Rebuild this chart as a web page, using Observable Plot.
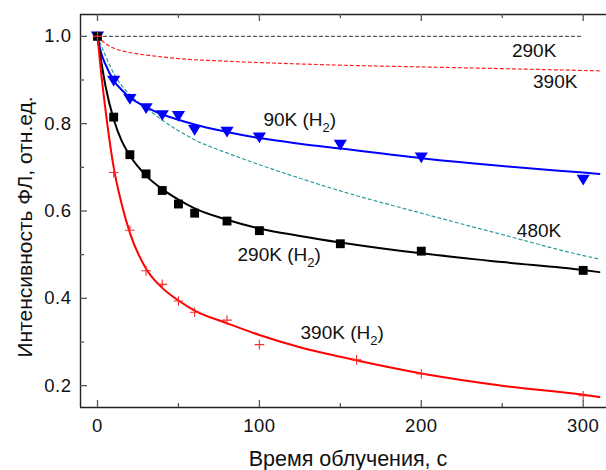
<!DOCTYPE html>
<html><head><meta charset="utf-8">
<script src="https://cdn.jsdelivr.net/npm/d3@7"></script>
<script src="https://cdn.jsdelivr.net/npm/@observablehq/plot@0.6"></script>
<style>body{margin:0;background:#fff}#chart{width:606px;height:470px}</style>
</head><body><div id="chart"></div>
<script>
// measured points
const t90 = [0,10,20,30,40,50,60,80,100,150,200,300];
const v90 = [1.0,0.899,0.857,0.836,0.82,0.818,0.786,0.782,0.769,0.752,0.723,0.672];
const t290 = [0,10,20,30,40,50,60,80,100,150,200,300];
const v290 = [1.0,0.815,0.729,0.685,0.647,0.616,0.595,0.577,0.555,0.525,0.508,0.464];
const t390 = [0,10,20,30,40,50,60,80,100,160,200,300];
const v390 = [1.0,0.688,0.556,0.463,0.432,0.394,0.368,0.35,0.294,0.259,0.227,0.177];
// fitted curves
const fitT = [0,2,5,10,15,20,30,40,50,60,80,100,125,150,200,250,300,310];
const fit90 = [1.0,0.965,0.935,0.899,0.877,0.86,0.838,0.821,0.809,0.798,0.781,0.767,0.754,0.743,0.721,0.703,0.688,0.685];
const fit290 = [1.0,0.95,0.885,0.81,0.76,0.727,0.681,0.65,0.626,0.606,0.58,0.56,0.543,0.528,0.503,0.483,0.465,0.46];
const fit390 = [1.0,0.925,0.83,0.70,0.615,0.55,0.468,0.424,0.395,0.372,0.343,0.316,0.288,0.266,0.228,0.2,0.179,0.174];
// dotted reference curves
const d290T = [0,300];
const d290V = [1.0,1.0];
const d390T = [0,5,10,20,35,50,80,115,150,200,250,310];
const d390V = [1.0,0.983,0.973,0.963,0.955,0.949,0.943,0.938,0.934,0.93,0.926,0.921];
const d480T = [0,5,10,20,30,40,50,60,80,100,125,150,200,250,300,310];
const d480V = [1.0,0.955,0.915,0.866,0.836,0.808,0.784,0.763,0.733,0.706,0.675,0.646,0.595,0.546,0.498,0.49];
// annotations
const labelText = ["290K","390K","90K (H₂)","480K","290K (H₂)","390K (H₂)"];
const labelT = [256,269,102.5,259,86.5,125.4];
const labelV = [0.967,0.896,0.809,0.555,0.5,0.321];
// ticks
const xMajor = [0,100,200,300];
const xMinor = [50,150,250];
const yMajor = [0.2,0.4,0.6,0.8,1.0];
const yMinor = [0.3,0.5,0.7,0.9];
const xDomain = [-10.5,314.4];
const yDomain = [0.15,1.05];
const xTitle = "Время облучения, с";
const yTitle = "Интенсивность ФЛ, отн.ед.";

const rows = (ts, vs) => ts.map((t,i)=>({t, v: vs[i]}));
const labels = labelText.map((s,i)=>({s, t: labelT[i], v: labelV[i]}));

const W=606, H=470, mL=80, mT=14, mB=63, mR=0;
const plotW = W-mL-mR, plotH = H-mT-mB;

const triDown = {draw(ctx, size){ const r=Math.sqrt(size/Math.PI);
  ctx.moveTo(-r,-0.72*r); ctx.lineTo(r,-0.72*r); ctx.lineTo(0,0.9*r); ctx.closePath(); }};

const tickStyle = {stroke:"#555", strokeWidth:1.3};
const chart = Plot.plot({
  width: W, height: H, marginLeft: mL, marginRight: mR, marginTop: mT, marginBottom: mB,
  style: {fontFamily: "'Liberation Sans', Arial, sans-serif", fontSize: "18.5px", background: "#fff", color: "#111"},
  x: {domain: xDomain},
  y: {domain: yDomain},
  marks: [
    Plot.line(rows(d290T,d290V), {x:"t", y:"v", stroke:"#555", strokeWidth:1.3, strokeDasharray:"3,3"}),
    Plot.line(rows(d390T,d390V), {x:"t", y:"v", stroke:"#ff2020", strokeWidth:1.2, strokeDasharray:"3,3", curve:"monotone-x"}),
    Plot.line(rows(d480T,d480V), {x:"t", y:"v", stroke:"#2a9d9d", strokeWidth:1.2, strokeDasharray:"3,3", curve:"monotone-x"}),
    Plot.line(rows(fitT,fit90), {x:"t", y:"v", stroke:"#0000ff", strokeWidth:2, curve:"monotone-x"}),
    Plot.line(rows(fitT,fit290), {x:"t", y:"v", stroke:"#000", strokeWidth:2, curve:"monotone-x"}),
    Plot.line(rows(fitT,fit390), {x:"t", y:"v", stroke:"#ff0000", strokeWidth:2, curve:"monotone-x"}),
    Plot.dot(rows(t90,v90), {x:"t", y:"v", symbol: triDown, r:6.6, fill:"#0000ff", stroke:"none"}),
    Plot.dot(rows(t290,v290), {x:"t", y:"v", symbol:"square", r:5, fill:"#000", stroke:"none"}),
    Plot.dot(rows(t390,v390), {x:"t", y:"v", symbol:"plus", r:3.2, stroke:"#ff2a2a", strokeWidth:1.1}),
    Plot.text(labels, {x:"t", y:"v", text:"s", textAnchor:"start", lineAnchor:"middle", fontSize:19, fill:"#111"}),
    // frame lines
    Plot.ruleX([xDomain[0]], {stroke:"#222", strokeWidth:1.4}),
    Plot.ruleY(yDomain, {stroke:"#222", strokeWidth:1.4}),
    // inward ticks
    Plot.tickX(xMajor, {x:d=>d, insetTop: plotH-7, ...tickStyle}),
    Plot.tickX(xMinor, {x:d=>d, insetTop: plotH-4, ...tickStyle}),
    Plot.tickX(xMajor, {x:d=>d, insetBottom: plotH-7, ...tickStyle}),
    Plot.tickX(xMinor, {x:d=>d, insetBottom: plotH-4, ...tickStyle}),
    Plot.tickY(yMajor, {y:d=>d, insetRight: plotW-7, ...tickStyle}),
    Plot.tickY(yMinor, {y:d=>d, insetRight: plotW-4, ...tickStyle}),
    Plot.axisX({ticks: xMajor, tickSize: 0, tickPadding: 11, label: null, fill:"#111"}),
    Plot.axisY({ticks: yMajor, tickSize: 0, tickPadding: 9, label: null, tickFormat: d3.format(".1f"), fill:"#111"}),
    Plot.text([xTitle], {text:d=>d, frameAnchor:"bottom", dy:52, dx:4.5, fontSize:21.5, lineAnchor:"middle", fill:"#111"}),
    Plot.text([yTitle], {text:d=>d, frameAnchor:"left", rotate:-90, dx:-55, dy:16, fontSize:21, textAnchor:"middle", lineAnchor:"middle", fill:"#111"})
  ]
});
document.getElementById("chart").appendChild(chart);
const svg = d3.select(chart);
svg.selectAll('g[aria-label="x-axis tick label"] text, g[aria-label="y-axis tick label"] text').attr("letter-spacing","0.5px");
svg.selectAll("text").each(function(){
  const el = this; const s = el.textContent;
  if (!s.includes("₂")) return;
  const [a,b] = s.split("₂");
  while (el.firstChild) el.removeChild(el.firstChild);
  const sel = d3.select(el);
  sel.append("tspan").text(a);
  sel.append("tspan").attr("dy",6).attr("font-size",13).text("2");
  sel.append("tspan").attr("dy",-6).text(b);
});
</script></body></html>
